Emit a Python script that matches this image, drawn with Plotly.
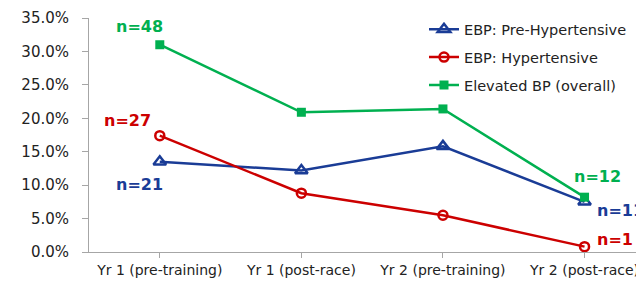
import plotly.graph_objects as go

categories = ["Yr 1 (pre-training)", "Yr 1 (post-race)", "Yr 2 (pre-training)", "Yr 2 (post-race)"]
pre_hyper = [13.5, 12.2, 15.8, 7.5]
hyper = [17.4, 8.8, 5.5, 0.8]
elevated = [31.0, 20.9, 21.4, 8.2]
y_ticks = [0, 5, 10, 15, 20, 25, 30, 35]

BLUE = "#1A3C96"
RED = "#CC0000"
GREEN = "#00B050"

fig = go.Figure()
fig.add_trace(go.Scatter(x=[0, 1, 2, 3], y=pre_hyper, name="EBP: Pre-Hypertensive", legendgroup="a",
                         mode="lines+markers", line=dict(color=BLUE, width=2.5),
                         marker=dict(symbol="triangle-up-open", size=11, color=BLUE, line=dict(width=2.5))))
fig.add_trace(go.Scatter(x=[0, 1, 2, 3], y=hyper, name="EBP: Hypertensive", legendgroup="b",
                         mode="lines+markers", line=dict(color=RED, width=2.5),
                         marker=dict(symbol="circle-open", size=9, color=RED, line=dict(width=2.5))))
fig.add_trace(go.Scatter(x=[0, 1, 2, 3], y=elevated, name="Elevated BP (overall)", legendgroup="c",
                         mode="lines+markers", line=dict(color=GREEN, width=2.5),
                         marker=dict(symbol="square", size=9, color=GREEN)))

labels = [
    (0, elevated[0], "n=48", GREEN, "center", -20, 18),
    (0, hyper[0], "n=27", RED, "center", -32, 15),
    (0, pre_hyper[0], "n=21", BLUE, "center", -20, -23),
    (3, elevated[3], "n=12", GREEN, "center", 13, 21),
    (3, pre_hyper[3], "n=11", BLUE, "left", 10, -9),
    (3, hyper[3], "n=1", RED, "left", 10, 7),
]
for x, y, t, c, xa, xs, ys in labels:
    fig.add_annotation(x=x, y=y, text=f"<b>{t}</b>", showarrow=False, xanchor=xa, yanchor="middle",
                       xshift=xs, yshift=ys, font=dict(family="DejaVu Sans", size=16, color=c))

fig.update_layout(
    width=644, height=283,
    margin=dict(l=81, r=8, t=10, b=39, autoexpand=False),
    paper_bgcolor="white", plot_bgcolor="white",
    font=dict(family="DejaVu Sans", size=13, color="#222222"),
    showlegend=True,
    legend=dict(x=(416 - 81) / 555, y=1.02, xanchor="left", yanchor="top",
                bgcolor="rgba(0,0,0,0)", font=dict(size=14.5, color="#222222"),
                itemwidth=30, tracegroupgap=6, traceorder="grouped"),
    xaxis=dict(range=[-0.5, 3.42], tickmode="array", tickvals=[0, 1, 2, 3], ticktext=categories,
               showgrid=False, zeroline=False, showline=True, linecolor="#A6A6A6", linewidth=1,
               ticks="outside", tickson="boundaries", ticklen=5, tickcolor="#A6A6A6",
               tickangle=0, automargin=False,
               tickfont=dict(size=14, color="#222222")),
    yaxis=dict(range=[0, 35], tickvals=y_ticks, ticktext=[f"{v:.1f}%" for v in y_ticks],
               showgrid=False, zeroline=False, showline=True, linecolor="#A6A6A6", linewidth=1,
               ticks="outside", ticklen=6, tickcolor="#A6A6A6", automargin=False,
               ticklabelstandoff=10,
               tickfont=dict(size=15, color="#222222")),
)

fig.write_html("out.html")
